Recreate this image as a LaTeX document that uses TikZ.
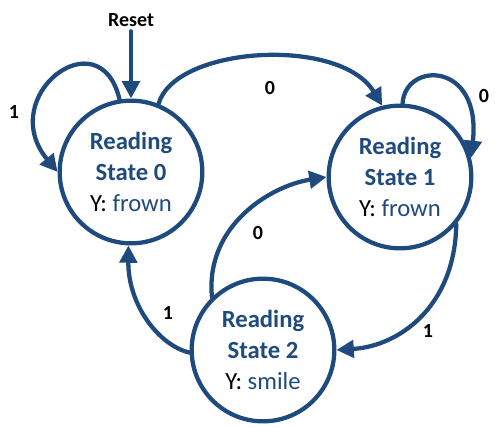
\documentclass[tikz,border=0pt]{standalone}
\usepackage{fontspec}
\setmainfont{Carlito}
\usetikzlibrary{arrows.meta}
\definecolor{fsmblue}{HTML}{1F4A7D}
\begin{document}
\begin{tikzpicture}[x=0.75pt,y=0.75pt,line join=round,line cap=round,
	>={Triangle[length=13pt,width=13pt]},
	readstate/.style={circle,draw=fsmblue,line width=3.2pt,minimum size=107pt,inner sep=0pt,align=center,font=\fontsize{18.5}{23}\selectfont},
	edgelabel/.style={font=\fontsize{15}{18}\selectfont\bfseries},
	link/.style={->,draw=fsmblue,line width=3.2pt}]
			\useasboundingbox (0,0) rectangle (504,426);
			\node[readstate] (s0) at (131,254) {\textbf{\color{fsmblue}Reading}\\\textbf{\color{fsmblue}State 0}\\Y: \textcolor{fsmblue}{frown}};
			\node[readstate] (s1) at (400,249) {\textbf{\color{fsmblue}Reading}\\\textbf{\color{fsmblue}State 1}\\Y: \textcolor{fsmblue}{frown}};
			\node[readstate] (s2) at (263,76) {\textbf{\color{fsmblue}Reading}\\\textbf{\color{fsmblue}State 2}\\Y: \textcolor{fsmblue}{smile}};
			\node[edgelabel] (reset) at (131,406) {Reset};
			\draw[link] (reset)--(s0);
			\draw[link] (s0.99) .. controls (100,410) and (-5,330) .. (s0.180);
			\draw[link] (s0.68) .. controls (175,380) and (340,390) .. (s1.104);
			\draw[link] (s1.88) .. controls (405,365) and (482,365) .. (s1.15);
			\draw[link] (s1.320) .. controls (455,120) and (400,80) .. (s2.east);
			\draw[link] (s2.134) .. controls (205,200) and (270,240) .. (s1.west);
			\draw[link] (s2.182) .. controls (160,80) and (128,120) .. (s0.268);
			\foreach \n/\x/\y/\t in {la/14/314/1,lb/270/338/0,lc/484/330/0,ld/428/95/1,le/258/193/0,lf/168/113/1} \node[edgelabel] (\n) at (\x,\y) {\t};
		\end{tikzpicture}
\end{document}
